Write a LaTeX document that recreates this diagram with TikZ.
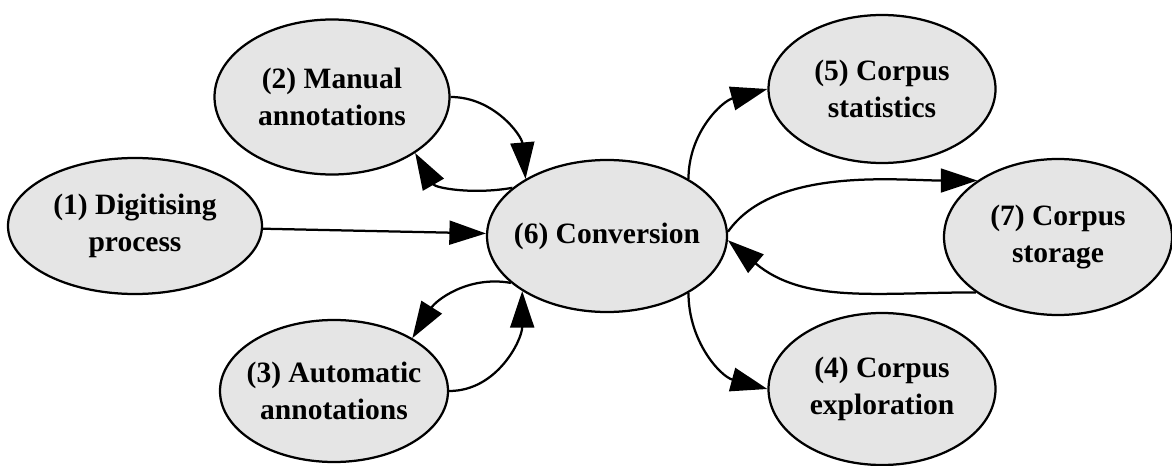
\documentclass[tikz,border=0pt]{standalone}
\usepackage{fontspec}
\setmainfont{Liberation Serif}
\usetikzlibrary{shapes.geometric, arrows.meta}

\tikzset{
  stage/.style = {ellipse, draw, line width = 1.6pt, fill = gray!20,
    inner sep = -0.4cm, align = center,
    font = \bfseries\fontsize{21}{26}\selectfont},
  flow/.style = {line width = 1.6pt, -{Triangle[length = 26pt, width = 17pt]}}
}

\begin{document}
\begin{tikzpicture}
\useasboundingbox (0, 0) rectangle (29.3, 11.625);
\node (dig) [stage, minimum width = 6.35cm, minimum height = 3.4cm] at (3.375, 5.975) {(1) Digitising\\process};
\node (man) [stage, minimum width = 5.875cm, minimum height = 3.875cm] at (8.3, 9.2) {(2) Manual\\annotations};
\node (aut) [stage, minimum width = 5.7cm, minimum height = 3.55cm] at (8.35, 1.85) {(3) Automatic\\annotations};
\node (conv) [stage, minimum width = 6cm, minimum height = 3.8cm] at (15.175, 5.725) {(6) Conversion};
\node (stat) [stage, minimum width = 5.675cm, minimum height = 3.7cm] at (22.05, 9.4) {(5) Corpus\\statistics};
\node (stor) [stage, minimum width = 5.7cm, minimum height = 3.9cm] at (26.45, 5.7) {(7) Corpus\\storage};
\node (expl) [stage, minimum width = 5.675cm, minimum height = 3.8cm] at (22.05, 1.9) {(4) Corpus\\exploration};

\draw [flow] (dig) -- (conv);
\draw [flow] (man.east) to [out = 0, in = 95] (conv.145);
\draw [flow] (conv.153) to [out = 190, in = -60] (man.-34);
\draw [flow] (conv.206) to [out = 170, in = 58] (aut.34);
\draw [flow] (aut.east) to [out = 0, in = -90] (conv.213);
\draw [flow] (conv.35) to [out = 90, in = 195] (stat.west);
\draw [flow] (conv.-35) to [out = -90, in = 165] (expl.west);
\draw [flow] (conv.2) to [out = 55, in = 180, looseness = 0.8] (stor.145);
\draw [flow] (stor.214) to [out = 180, in = -40] (conv.-2);
\end{tikzpicture}
\end{document}
